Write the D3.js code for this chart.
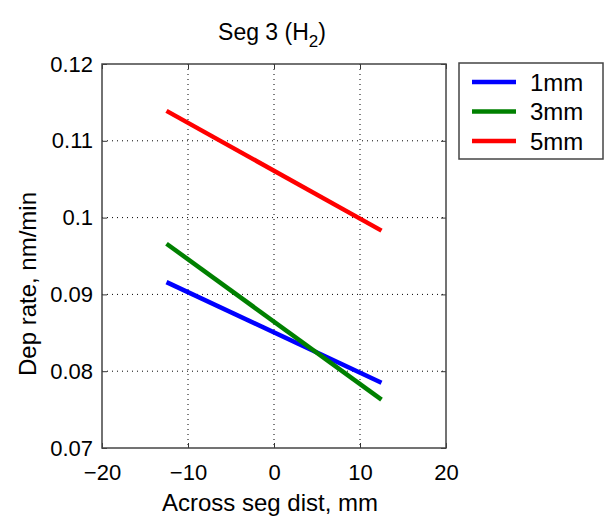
<!DOCTYPE html>
<html>
<head>
<meta charset="utf-8">
<script src="https://cdn.jsdelivr.net/npm/d3@7"></script>
<style>
  body { margin: 0; background: #fff; }
  svg text { font-family: "Liberation Sans", Arial, sans-serif; fill: #000; }
</style>
</head>
<body>
<div id="chart"></div>
<script>
// Seg 3 (H2) - dep rate across segment

const xTicks = [-20, -10, 0, 10, 20];
const yTicks = [0.07, 0.08, 0.09, 0.1, 0.11, 0.12];
const distances = [-12.5, 12.5];
const seriesNames = ['1mm', '3mm', '5mm'];
const seriesColors = ['#0000ff', '#008000', '#ff0000'];
const rate1mm = [0.0916, 0.0785];
const rate3mm = [0.0966, 0.0763];
const rate5mm = [0.1139, 0.0983];

const W = 604, H = 522;
const margin = { top: 64, right: 158, bottom: 74, left: 102 };
const w = W - margin.left - margin.right;
const h = H - margin.top - margin.bottom;

const svg = d3.select('#chart').append('svg')
  .attr('width', W).attr('height', H);

const g = svg.append('g')
  .attr('transform', `translate(${margin.left},${margin.top})`);

const xScale = d3.scaleLinear().domain([-20, 20]).range([0, w]);
const yScale = d3.scaleLinear().domain([0.07, 0.12]).range([h, 0]);

// dotted grid
g.append('g')
  .selectAll('line')
  .data(xTicks.slice(1, -1))
  .join('line')
  .attr('x1', d => xScale(d)).attr('x2', d => xScale(d))
  .attr('y1', 0).attr('y2', h)
  .attr('stroke', '#000').attr('stroke-width', 1).attr('stroke-dasharray', '1,4');

g.append('g')
  .selectAll('line')
  .data(yTicks.slice(1, -1))
  .join('line')
  .attr('y1', d => yScale(d)).attr('y2', d => yScale(d))
  .attr('x1', 0).attr('x2', w)
  .attr('stroke', '#000').attr('stroke-width', 1).attr('stroke-dasharray', '1,4');

// axes with inward ticks
const fmtX = d => d < 0 ? '\u2212' + Math.abs(d) : String(d);
const fmtY = d => String(+d.toFixed(2));

g.append('g')
  .attr('transform', `translate(0,${h})`)
  .call(d3.axisBottom(xScale).tickValues(xTicks).tickSize(-5).tickFormat(fmtX))
  .call(a => a.select('.domain').remove())
  .call(a => a.selectAll('line').attr('stroke', '#333'))
  .call(a => a.selectAll('text').style('font-size', '22px').attr('y', 32).attr('dy', 0));

g.append('g')
  .call(d3.axisLeft(yScale).tickValues(yTicks).tickSize(-5).tickPadding(9).tickFormat(fmtY))
  .call(a => a.select('.domain').remove())
  .call(a => a.selectAll('line').attr('stroke', '#333'))
  .call(a => a.selectAll('text').style('font-size', '22px'));

g.append('g')
  .call(d3.axisTop(xScale).tickValues(xTicks).tickSize(-5).tickFormat(''))
  .call(a => a.select('.domain').remove())
  .call(a => a.selectAll('line').attr('stroke', '#333'));

g.append('g')
  .attr('transform', `translate(${w},0)`)
  .call(d3.axisRight(yScale).tickValues(yTicks).tickSize(-5).tickFormat(''))
  .call(a => a.select('.domain').remove())
  .call(a => a.selectAll('line').attr('stroke', '#333'));

g.append('rect')
  .attr('width', w).attr('height', h)
  .attr('fill', 'none').attr('stroke', '#444').attr('stroke-width', 1.5);

// data lines
const allSeries = [rate1mm, rate3mm, rate5mm];
const line = d3.line()
  .x((d, i) => xScale(distances[i]))
  .y(d => yScale(d));

g.selectAll('.series')
  .data(allSeries)
  .join('path')
  .attr('class', 'series')
  .attr('d', d => line(d))
  .attr('fill', 'none')
  .attr('stroke', (d, i) => seriesColors[i])
  .attr('stroke-width', 4.5);

// title
const title = svg.append('text')
  .attr('x', 272).attr('y', 40)
  .attr('text-anchor', 'middle')
  .style('font-size', '23px');
title.append('tspan').text('Seg 3 (H');
title.append('tspan').attr('dy', 7).style('font-size', '17px').text('2');
title.append('tspan').attr('dy', -7).text(')');

// axis labels
svg.append('text')
  .attr('x', 270).attr('y', 511)
  .attr('text-anchor', 'middle')
  .style('font-size', '24px')
  .text('Across seg dist, mm');

svg.append('text')
  .attr('transform', 'translate(36,284) rotate(-90)')
  .attr('text-anchor', 'middle')
  .style('font-size', '24px')
  .text('Dep rate, nm/min');

// legend
const lg = svg.append('g').attr('transform', 'translate(459,63)');
lg.append('rect')
  .attr('width', 144).attr('height', 96)
  .attr('fill', '#fff').attr('stroke', '#444').attr('stroke-width', 1.5);

seriesNames.forEach((name, i) => {
  const y = 19 + i * 29.5;
  lg.append('line')
    .attr('x1', 13).attr('x2', 57).attr('y1', y).attr('y2', y)
    .attr('stroke', seriesColors[i]).attr('stroke-width', 4.5);
  lg.append('text')
    .attr('x', 71).attr('y', y).attr('dy', '0.36em')
    .style('font-size', '24px')
    .text(name);
});
</script>
</body>
</html>
